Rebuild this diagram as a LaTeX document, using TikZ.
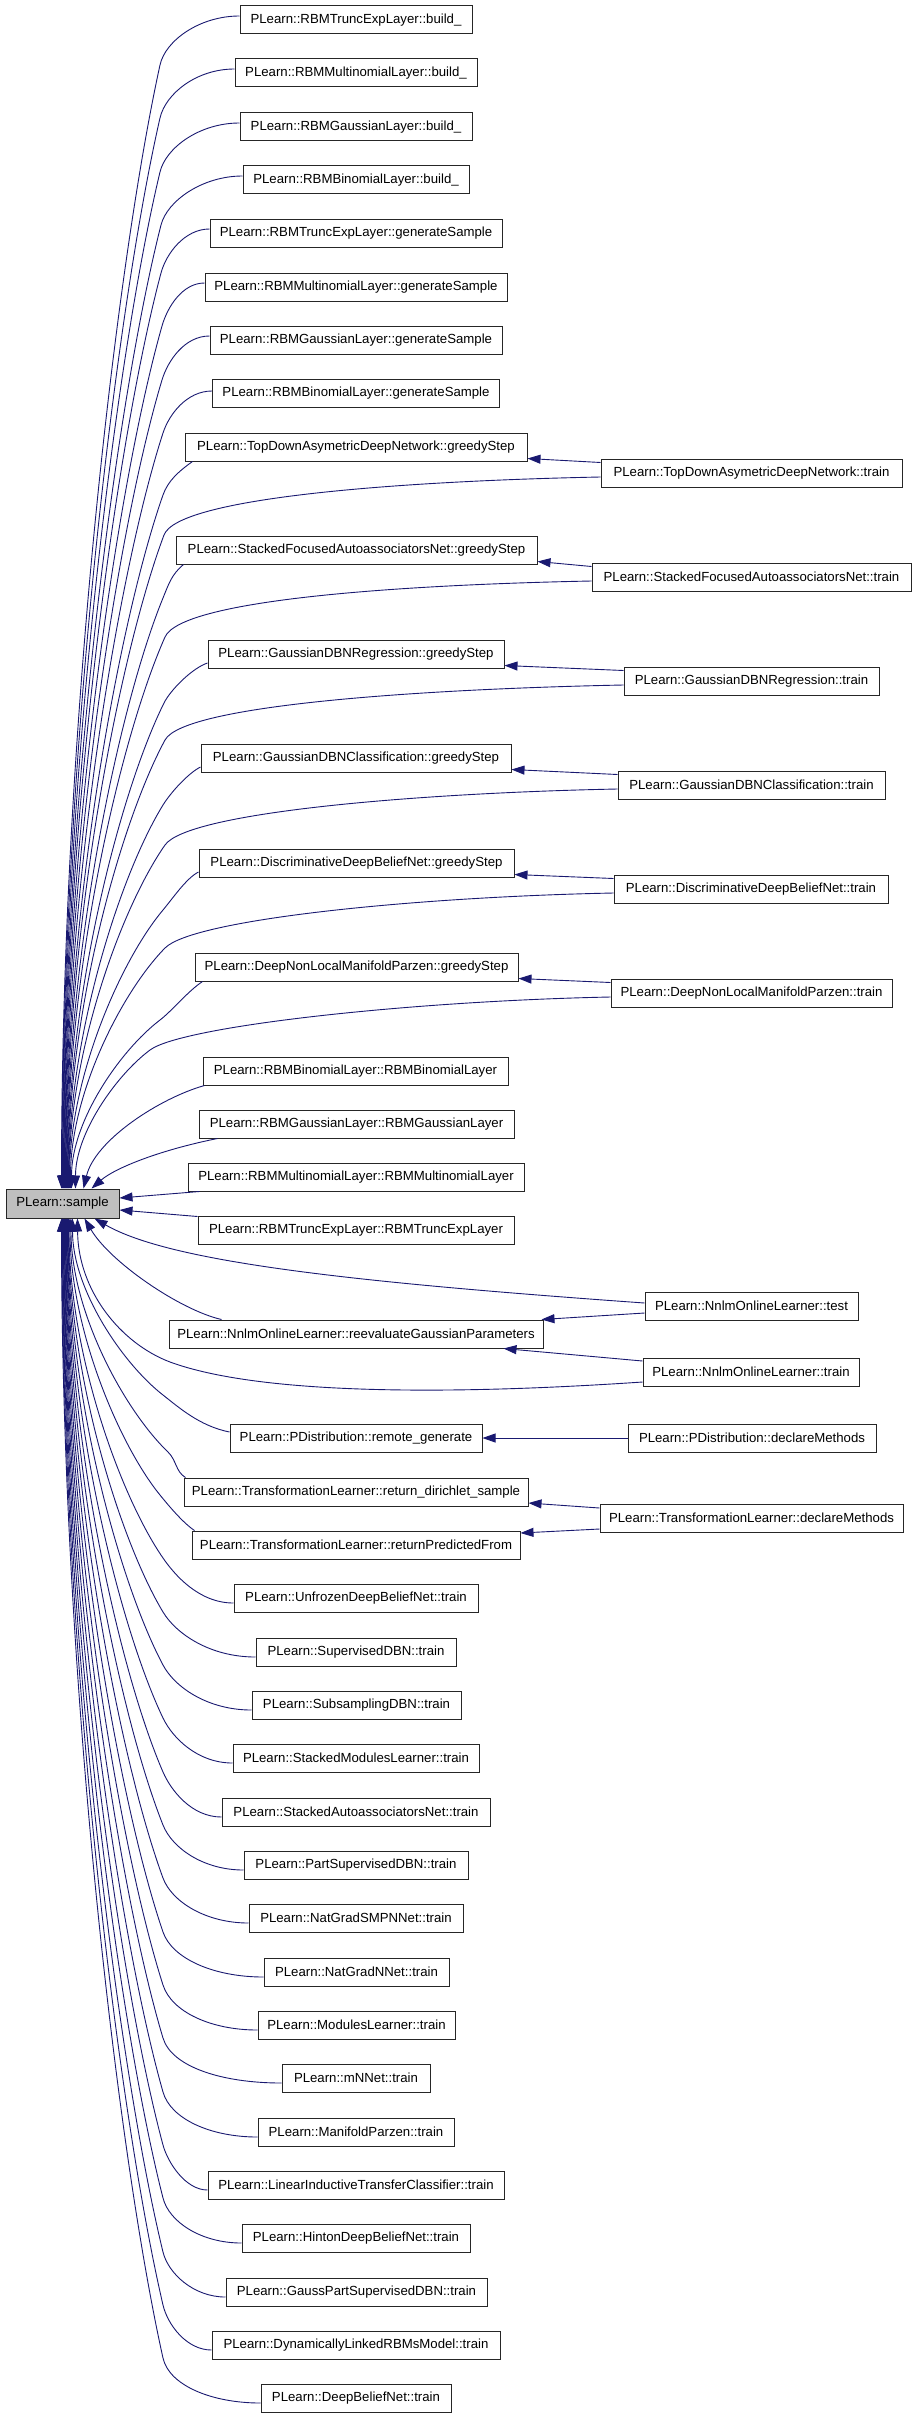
\documentclass[tikz,border=0pt]{standalone}
\usepackage{fontspec}
\setmainfont{Liberation Sans}
\usetikzlibrary{arrows.meta,calc}
\definecolor{navyedge}{HTML}{191970}
\definecolor{samplegray}{HTML}{BFBFBF}
\tikzset{
  fnbox/.style={draw=black!85, line width=1pt, fill=white, rectangle, minimum height=28pt, inner xsep=4pt, font=\fontsize{13.2}{15}\selectfont},
  callarr/.style={draw=navyedge, line width=0.9pt, -{Triangle[length=13pt,width=9pt]}}
}
\newcommand\fanedge[5]{%
  \coordinate (fA) at #1;
  \coordinate (fT) at #3;
  \coordinate (fS) at #4;
  \coordinate (fM) at ($(fS|-fT)!0.4!(fS)$);
  \coordinate (fC) at ($(fS)!0.4!(fS|-fT)$);
  \draw[callarr] (fA) .. controls ($(fA)+#2$) and ($(fT)!-#5pt!(fM)$) .. (fT) .. controls ($(fT)!0.45!(fM)$) and (fC) .. (fS);
}
\begin{document}
\begin{tikzpicture}[x=1pt,y=-1pt]
\useasboundingbox (0,0) rectangle (912,2419);
% callee
\node[fnbox, fill=samplegray, minimum width=113pt, minimum height=29pt] (sample) at (62.5,1203.5) {PLearn::sample};
% middle column
\node[fnbox, minimum width=232pt] (n1) at (356,20) {PLearn::RBMTruncExpLayer::build\_};
\node[fnbox, minimum width=242pt] (n2) at (356,73) {PLearn::RBMMultinomialLayer::build\_};
\node[fnbox, minimum width=232pt] (n3) at (356,127) {PLearn::RBMGaussianLayer::build\_};
\node[fnbox, minimum width=226pt] (n4) at (356,180) {PLearn::RBMBinomialLayer::build\_};
\node[fnbox, minimum width=292pt] (n5) at (356,233) {PLearn::RBMTruncExpLayer::generateSample};
\node[fnbox, minimum width=302pt] (n6) at (356,287) {PLearn::RBMMultinomialLayer::generateSample};
\node[fnbox, minimum width=292pt] (n7) at (356,340) {PLearn::RBMGaussianLayer::generateSample};
\node[fnbox, minimum width=287pt] (n8) at (356,393) {PLearn::RBMBinomialLayer::generateSample};
\node[fnbox, minimum width=342pt] (n9) at (356,447) {PLearn::TopDownAsymetricDeepNetwork::greedyStep};
\node[fnbox, minimum width=361pt] (n10) at (356.5,550) {PLearn::StackedFocusedAutoassociatorsNet::greedyStep};
\node[fnbox, minimum width=296pt] (n11) at (356,654) {PLearn::GaussianDBNRegression::greedyStep};
\node[fnbox, minimum width=310pt] (n12) at (356,758) {PLearn::GaussianDBNClassification::greedyStep};
\node[fnbox, minimum width=315pt] (n13) at (356.5,863) {PLearn::DiscriminativeDeepBeliefNet::greedyStep};
\node[fnbox, minimum width=323pt] (n14) at (356.5,967) {PLearn::DeepNonLocalManifoldParzen::greedyStep};
\node[fnbox, minimum width=305pt] (n15) at (355.5,1071) {PLearn::RBMBinomialLayer::RBMBinomialLayer};
\node[fnbox, minimum width=315pt] (n16) at (356.5,1124) {PLearn::RBMGaussianLayer::RBMGaussianLayer};
\node[fnbox, minimum width=336pt] (n17) at (356,1177) {PLearn::RBMMultinomialLayer::RBMMultinomialLayer};
\node[fnbox, minimum width=316pt] (n18) at (356,1230) {PLearn::RBMTruncExpLayer::RBMTruncExpLayer};
\node[fnbox, minimum width=374pt] (n19) at (356,1334) {PLearn::NnlmOnlineLearner::reevaluateGaussianParameters};
\node[fnbox, minimum width=252pt] (n20) at (356,1438) {PLearn::PDistribution::remote\_generate};
\node[fnbox, minimum width=344pt] (n21) at (356,1492) {PLearn::TransformationLearner::return\_dirichlet\_sample};
\node[fnbox, minimum width=328pt] (n22) at (356,1545) {PLearn::TransformationLearner::returnPredictedFrom};
\node[fnbox, minimum width=244pt] (n23) at (356,1598) {PLearn::UnfrozenDeepBeliefNet::train};
\node[fnbox, minimum width=200pt] (n24) at (356,1652) {PLearn::SupervisedDBN::train};
\node[fnbox, minimum width=209pt] (n25) at (356.5,1705) {PLearn::SubsamplingDBN::train};
\node[fnbox, minimum width=246pt] (n26) at (356,1758) {PLearn::StackedModulesLearner::train};
\node[fnbox, minimum width=268pt] (n27) at (356,1812) {PLearn::StackedAutoassociatorsNet::train};
\node[fnbox, minimum width=224pt] (n28) at (356,1865) {PLearn::PartSupervisedDBN::train};
\node[fnbox, minimum width=214pt] (n29) at (356,1918) {PLearn::NatGradSMPNNet::train};
\node[fnbox, minimum width=185pt] (n30) at (356.5,1972) {PLearn::NatGradNNet::train};
\node[fnbox, minimum width=197pt] (n31) at (356.5,2025) {PLearn::ModulesLearner::train};
\node[fnbox, minimum width=148pt] (n32) at (356,2078) {PLearn::mNNet::train};
\node[fnbox, minimum width=196pt] (n33) at (356,2132) {PLearn::ManifoldParzen::train};
\node[fnbox, minimum width=296pt] (n34) at (356,2185) {PLearn::LinearInductiveTransferClassifier::train};
\node[fnbox, minimum width=228pt] (n35) at (356,2238) {PLearn::HintonDeepBeliefNet::train};
\node[fnbox, minimum width=261pt] (n36) at (356.5,2292) {PLearn::GaussPartSupervisedDBN::train};
\node[fnbox, minimum width=288pt] (n37) at (356,2345) {PLearn::DynamicallyLinkedRBMsModel::train};
\node[fnbox, minimum width=190pt] (n38) at (356,2398) {PLearn::DeepBeliefNet::train};
% right column
\node[fnbox, minimum width=301pt] (t9) at (751.5,473) {PLearn::TopDownAsymetricDeepNetwork::train};
\node[fnbox, minimum width=319pt] (t10) at (751.5,577) {PLearn::StackedFocusedAutoassociatorsNet::train};
\node[fnbox, minimum width=255pt] (t11) at (751.5,681) {PLearn::GaussianDBNRegression::train};
\node[fnbox, minimum width=267pt] (t12) at (751.5,785) {PLearn::GaussianDBNClassification::train};
\node[fnbox, minimum width=274pt] (t13) at (751,889) {PLearn::DiscriminativeDeepBeliefNet::train};
\node[fnbox, minimum width=281pt] (t14) at (751.5,993) {PLearn::DeepNonLocalManifoldParzen::train};
\node[fnbox, minimum width=213pt] (tt) at (751.5,1306) {PLearn::NnlmOnlineLearner::test};
\node[fnbox, minimum width=216pt] (tn) at (751,1372) {PLearn::NnlmOnlineLearner::train};
\node[fnbox, minimum width=248pt] (td) at (752,1438) {PLearn::PDistribution::declareMethods};
\node[fnbox, minimum width=303pt] (tl) at (751.5,1518) {PLearn::TransformationLearner::declareMethods};

% ---- upper fan into sample top
\fanedge{($(n1.west)+(0,-4)$)}{(-40,0)}{(160,65)}{($(sample.north west)+(56,0)$)}{25}
\fanedge{($(n2.west)+(0,-4)$)}{(-38,0)}{(160,118)}{($(sample.north west)+(56.5,0)$)}{25}
\fanedge{($(n3.west)+(0,-4)$)}{(-40,0)}{(160,172)}{($(sample.north west)+(57,0)$)}{25}
\fanedge{($(n4.west)+(0,-4)$)}{(-40,0)}{(161,225)}{($(sample.north west)+(57.5,0)$)}{25}
\fanedge{($(n5.west)+(0,-4)$)}{(-25,0)}{(161,273)}{($(sample.north west)+(58,0)$)}{20}
\fanedge{($(n6.west)+(0,-4)$)}{(-22,0)}{(162,326)}{($(sample.north west)+(58.5,0)$)}{20}
\fanedge{($(n7.west)+(0,-4)$)}{(-25,0)}{(162,380)}{($(sample.north west)+(59,0)$)}{20}
\fanedge{($(n8.west)+(0,-2)$)}{(-25,0)}{(163,433)}{($(sample.north west)+(59.5,0)$)}{20}
\fanedge{($(n9.south west)+(8,0)$)}{(-14,10)}{(163,495)}{($(sample.north west)+(60,0)$)}{15}
\fanedge{($(t9.west)+(0,4)$)}{(-200,4)}{(164,535)}{($(sample.north west)+(60.5,0)$)}{40}
\fanedge{($(n10.south west)+(8,0)$)}{(-12,10)}{(163,598)}{($(sample.north west)+(61,0)$)}{15}
\fanedge{($(t10.west)+(0,4)$)}{(-200,4)}{(165,637)}{($(sample.north west)+(61.5,0)$)}{40}
\fanedge{($(n11.west)+(0,9)$)}{(-15,5)}{(164,703)}{($(sample.north west)+(62,0)$)}{15}
\fanedge{($(t11.west)+(0,4)$)}{(-200,4)}{(165,740)}{($(sample.north west)+(62.5,0)$)}{40}
\fanedge{($(n12.west)+(0,9)$)}{(-12,6)}{(163,805)}{($(sample.north west)+(63,0)$)}{15}
\fanedge{($(t12.west)+(0,4)$)}{(-200,4)}{(165,845)}{($(sample.north west)+(63.5,0)$)}{40}
\fanedge{($(n13.west)+(0,9)$)}{(-12,6)}{(163,910)}{($(sample.north west)+(64,0)$)}{15}
\fanedge{($(t13.west)+(0,4)$)}{(-200,4)}{(165,948)}{($(sample.north west)+(65,0)$)}{40}
\fanedge{($(n14.south west)+(8,0)$)}{(-15,10)}{(160,1020)}{($(sample.north west)+(66,0)$)}{15}
\fanedge{($(t14.west)+(0,4)$)}{(-200,4)}{(150,1050)}{($(sample.north west)+(70,0)$)}{40}
\draw[callarr] ($(n15.south west)+(2,0)$) .. controls (160,1098) and (95,1140) .. ($(sample.north west)+(78,0)$);
\draw[callarr] ($(n16.south west)+(19,0)$) .. controls (160,1150) and (115,1168) .. ($(sample.north west)+(86,0)$);
% side
\draw[callarr] ($(n17.south west)+(12,0)$) -- ($(sample.east)+(0,-5.5)$);
\draw[callarr] ($(n18.north west)+(0,1)$) -- ($(sample.east)+(0,6.5)$);
% ---- lower fan from sample bottom
\draw[callarr] ($(tt.west)+(0,-3)$) .. controls (350,1282) and (170,1262) .. ($(sample.south west)+(89,0)$);
\draw[callarr] ($(n19.north west)+(53,0)$) .. controls (180,1310) and (110,1262) .. ($(sample.south west)+(79,0)$);
\draw[callarr] ($(tn.west)+(0,10)$) .. controls (450,1395) and (260,1395) .. (170,1362) .. controls (120,1343) and (78,1290) .. ($(sample.south west)+(72,0)$);
\fanedge{($(n20.west)+(0,-6)$)}{(-30,-6)}{(163,1395)}{($(sample.south west)+(67,0)$)}{20}
\fanedge{($(n21.north west)+(2,0)$)}{(-10,-6)}{(168,1452)}{($(sample.south west)+(65.5,0)$)}{12}
\fanedge{($(n22.north west)+(3,0)$)}{(-12,-8)}{(160,1495)}{($(sample.south west)+(64.5,0)$)}{12}
\fanedge{($(n23.west)+(0,5)$)}{(-35,0)}{(163,1558)}{($(sample.south west)+(63.5,0)$)}{20}
\fanedge{($(n24.west)+(0,5)$)}{(-46,0)}{(163,1612)}{($(sample.south west)+(63,0)$)}{25}
\fanedge{($(n25.west)+(0,5)$)}{(-44,0)}{(163,1665)}{($(sample.south west)+(62.5,0)$)}{25}
\fanedge{($(n26.west)+(0,5)$)}{(-35,0)}{(163,1718)}{($(sample.south west)+(62,0)$)}{22}
\fanedge{($(n27.west)+(0,5)$)}{(-30,0)}{(163,1772)}{($(sample.south west)+(61.5,0)$)}{20}
\fanedge{($(n28.west)+(0,5)$)}{(-40,0)}{(163,1825)}{($(sample.south west)+(61,0)$)}{25}
\fanedge{($(n29.west)+(0,5)$)}{(-43,0)}{(163,1878)}{($(sample.south west)+(60.5,0)$)}{25}
\fanedge{($(n30.west)+(0,5)$)}{(-50,0)}{(163,1932)}{($(sample.south west)+(60,0)$)}{28}
\fanedge{($(n31.west)+(0,5)$)}{(-47,0)}{(163,1985)}{($(sample.south west)+(59.5,0)$)}{28}
\fanedge{($(n32.west)+(0,5)$)}{(-60,0)}{(163,2038)}{($(sample.south west)+(59,0)$)}{30}
\fanedge{($(n33.west)+(0,5)$)}{(-47,0)}{(163,2092)}{($(sample.south west)+(58.5,0)$)}{28}
\fanedge{($(n34.west)+(0,5)$)}{(-22,0)}{(163,2145)}{($(sample.south west)+(58,0)$)}{18}
\fanedge{($(n35.west)+(0,5)$)}{(-40,0)}{(163,2198)}{($(sample.south west)+(57.5,0)$)}{25}
\fanedge{($(n36.west)+(0,5)$)}{(-32,0)}{(163,2252)}{($(sample.south west)+(57,0)$)}{22}
\fanedge{($(n37.west)+(0,5)$)}{(-25,0)}{(163,2305)}{($(sample.south west)+(56.5,0)$)}{20}
\fanedge{($(n38.west)+(0,5)$)}{(-49,0)}{(163,2358)}{($(sample.south west)+(56,0)$)}{28}
% ---- right column to middle column
\draw[callarr] ($(t9.north west)+(0,4)$) -- ($(n9.south east)+(0,-3)$);
\draw[callarr] ($(t10.north west)+(0,4)$) -- ($(n10.south east)+(0,-3)$);
\draw[callarr] ($(t11.north west)+(0,4)$) -- ($(n11.south east)+(0,-3)$);
\draw[callarr] ($(t12.north west)+(0,4)$) -- ($(n12.south east)+(0,-3)$);
\draw[callarr] ($(t13.north west)+(0,4)$) -- ($(n13.south east)+(0,-3)$);
\draw[callarr] ($(t14.north west)+(0,4)$) -- ($(n14.south east)+(0,-3)$);
\draw[callarr] ($(tt.west)+(0,7)$) -- ($(n19.north east)+(-2,0)$);
\draw[callarr] ($(tn.west)+(0,-11)$) -- ($(n19.south east)+(-40,0)$);
\draw[callarr] (td.west) -- (n20.east);
\draw[callarr] ($(tl.west)+(0,-10)$) -- ($(n21.east)+(0,11)$);
\draw[callarr] ($(tl.west)+(0,11)$) -- ($(n22.east)+(0,-12)$);
\end{tikzpicture}
\end{document}
